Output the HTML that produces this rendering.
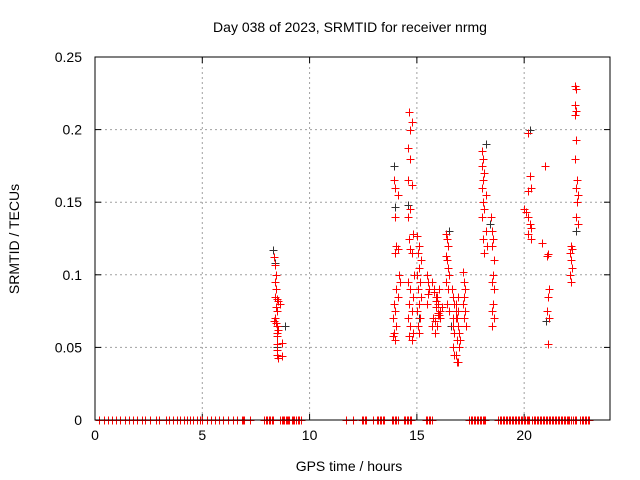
<!DOCTYPE html>
<html><head><meta charset="utf-8"><style>
body{margin:0;background:#fff}
svg{display:block;font-family:"Liberation Sans",sans-serif}
</style></head><body>
<svg id="chart" width="640" height="480">
<rect width="640" height="480" fill="#fff"/>
<text x="350" y="32" font-size="14" text-anchor="middle">Day 038 of 2023, SRMTID for receiver nrmg</text>
<text x="349" y="471" font-size="14" text-anchor="middle">GPS time / hours</text>
<text transform="translate(19,239) rotate(-90)" font-size="14" text-anchor="middle">SRMTID / TECUs</text>
<g id="grid"></g><g id="ticks"></g><g id="black" shape-rendering="crispEdges"></g><g id="red" shape-rendering="crispEdges"></g>
<rect x="95" y="57" width="515" height="363" fill="none" stroke="#000" stroke-width="1"/>
</svg>
<script>
const xTicks=[0,5,10,15,20];
const yTicks=[0,0.05,0.1,0.15,0.2,0.25];
const yTickLabels=["0","0.05","0.1","0.15","0.2","0.25"];
const zeroHours=[0.2,0.44,0.62,0.81,1.0,1.18,1.42,1.6,1.79,1.98,2.17,2.35,2.54,2.82,2.99,3.29,3.44,3.63,3.82,3.97,4.13,4.28,4.44,4.59,4.75,4.88,5.0,5.22,5.41,5.59,5.78,5.97,6.2,6.42,6.62,6.85,6.9,6.96,7.24,7.87,7.95,8.03,8.1,8.17,8.24,8.3,8.64,8.7,8.76,8.82,8.88,8.94,9.0,9.05,9.19,9.24,9.28,9.39,9.45,9.52,9.58,11.7,12.04,12.43,12.5,12.56,12.62,12.94,13.13,13.2,13.27,13.34,13.4,13.46,13.83,13.9,13.97,14.04,14.1,14.39,14.46,14.53,14.6,14.66,14.72,15.42,15.49,15.56,15.63,15.7,17.43,17.5,17.57,17.64,17.71,17.78,17.85,17.92,17.99,18.06,18.12,18.18,18.79,18.86,18.93,19.0,19.07,19.14,19.21,19.28,19.35,19.42,19.49,19.56,19.63,19.7,19.77,19.84,19.91,19.98,20.05,20.12,20.18,20.22,20.37,20.44,20.51,20.58,20.65,20.72,20.79,20.86,20.93,21.0,21.07,21.14,21.21,21.28,21.35,21.42,21.49,21.57,21.63,21.7,21.77,21.84,21.91,21.98,22.05,22.1,22.2,22.27,22.35,22.43,22.62,22.69,22.76,22.83,22.9,22.96,23.0];
const redHours=[8.35,8.4,8.42,8.38,8.45,8.4,8.5,8.55,8.6,8.45,8.5,8.38,8.35,8.45,8.5,8.55,8.5,8.48,8.5,8.7,8.5,8.55,8.7,8.5,
13.95,14.0,14.1,14.0,14.05,14.1,14.0,14.15,14.2,14.05,14.1,13.95,14.0,13.9,14.05,13.95,14.0,13.9,
14.65,14.75,14.7,14.6,14.7,14.6,14.75,14.7,14.6,14.8,14.65,14.7,14.75,14.85,14.6,14.7,14.8,14.65,14.75,14.6,14.7,14.8,14.65,14.75,
15.0,15.1,15.05,15.2,15.1,15.0,15.15,15.05,15.2,15.1,15.0,15.15,15.05,15.1,
15.45,15.5,15.55,15.5,15.45,
15.7,15.8,15.9,16.0,16.1,15.75,15.85,15.95,16.05,16.15,15.8,15.9,16.0,16.1,15.7,15.85,15.95,16.05,15.9,16.0,
16.35,16.4,16.45,16.35,16.4,16.45,16.5,16.35,16.45,16.4,16.5,
16.65,16.7,16.75,16.8,16.85,16.9,16.95,17.0,16.7,16.8,16.9,16.75,16.85,16.95,16.7,16.8,16.9,16.75,16.85,16.8,16.9,16.7,
17.15,17.2,17.25,17.2,17.15,17.25,17.2,17.3,
18.05,18.1,18.05,18.15,18.1,18.05,18.2,18.1,18.15,18.05,18.2,18.1,18.25,18.15,
18.45,18.5,18.55,18.5,18.6,18.55,18.5,18.6,18.55,18.5,18.6,18.5,
20.2,20.25,20.3,20.2,20.0,20.1,20.2,20.25,20.3,20.2,20.3,
20.95,20.85,21.1,21.05,21.15,21.1,21.05,21.15,21.1,
22.35,22.4,22.35,22.4,22.35,22.4,22.35,22.45,22.4,22.5,22.45,22.4,22.5,22.2,22.25,22.15,22.2,22.25,22.15,22.2];
const redValues=[0.112,0.107,0.1,0.095,0.09,0.085,0.083,0.082,0.08,0.078,0.075,0.07,0.068,0.067,0.065,0.062,0.06,0.058,0.052,0.053,0.045,0.043,0.044,0.048,
0.165,0.16,0.155,0.14,0.12,0.118,0.115,0.1,0.095,0.09,0.085,0.08,0.075,0.07,0.065,0.06,0.055,0.058,
0.212,0.205,0.2,0.187,0.18,0.165,0.162,0.145,0.14,0.128,0.125,0.118,0.115,0.1,0.095,0.09,0.085,0.08,0.075,0.07,0.065,0.06,0.058,0.055,
0.127,0.12,0.115,0.11,0.105,0.1,0.095,0.09,0.085,0.08,0.075,0.07,0.065,0.06,
0.1,0.095,0.09,0.087,0.08,
0.095,0.09,0.085,0.08,0.075,0.07,0.068,0.065,0.072,0.078,0.088,0.082,0.074,0.07,0.065,0.06,0.085,0.09,0.078,0.072,
0.128,0.125,0.12,0.113,0.11,0.105,0.1,0.095,0.09,0.08,0.075,
0.09,0.085,0.08,0.075,0.07,0.065,0.06,0.055,0.05,0.045,0.04,0.06,0.055,0.05,0.065,0.07,0.075,0.045,0.04,0.08,0.085,0.07,
0.102,0.095,0.09,0.085,0.08,0.075,0.07,0.065,
0.185,0.18,0.175,0.17,0.165,0.16,0.155,0.15,0.145,0.14,0.13,0.125,0.12,0.115,
0.14,0.13,0.125,0.12,0.11,0.1,0.095,0.09,0.08,0.075,0.07,0.065,
0.198,0.168,0.16,0.158,0.145,0.143,0.14,0.135,0.132,0.128,0.125,
0.175,0.122,0.114,0.113,0.09,0.085,0.075,0.07,0.052,
0.23,0.228,0.217,0.213,0.21,0.193,0.18,0.165,0.16,0.155,0.15,0.14,0.135,0.12,0.118,0.115,0.11,0.105,0.1,0.095];
const blackHours=[8.3,8.4,8.85,8.5,13.95,14.0,14.6,15.1,16.5,16.6,18.2,18.4,20.25,21.0,22.4];
const blackValues=[0.117,0.108,0.065,0.05,0.175,0.147,0.148,0.07,0.13,0.065,0.19,0.135,0.2,0.068,0.13];
const NS="http://www.w3.org/2000/svg";
const X=h=>95+h*(515/24), Y=v=>420-v*(363/0.25);
function mk(tag,attrs,parent){const e=document.createElementNS(NS,tag);for(const k in attrs)e.setAttribute(k,attrs[k]);parent.appendChild(e);return e;}
const grid=document.getElementById('grid'),ticks=document.getElementById('ticks');
xTicks.forEach(t=>{
 if(t>0){const g=mk('line',{x1:X(t),x2:X(t),y1:57,y2:420,stroke:'#a0a0a0','stroke-dasharray':'2,3'},grid);
 
 }
 mk('line',{x1:X(t),x2:X(t),y1:420,y2:414,stroke:'#000'},ticks);
 mk('line',{x1:X(t),x2:X(t),y1:57,y2:63,stroke:'#000'},ticks);
 const l=mk('text',{x:X(t),y:440,'font-size':14,'text-anchor':'middle'},ticks);l.textContent=t;
 
 
});
yTicks.forEach((t,i)=>{
 if(t>0&&t<0.25){const g=mk('line',{x1:95,x2:610,y1:Y(t),y2:Y(t),stroke:'#a0a0a0','stroke-dasharray':'2,3'},grid);
 
 }
 mk('line',{x1:95,x2:101,y1:Y(t),y2:Y(t),stroke:'#000'},ticks);
 mk('line',{x1:610,x2:604,y1:Y(t),y2:Y(t),stroke:'#000'},ticks);
 const l=mk('text',{x:82,y:Y(t)+5,'font-size':14,'text-anchor':'end'},ticks);l.textContent=yTickLabels[i];
 
 
});
function plus(g,h,v,c,name){
 const x=Math.round(X(h))+0.5, y=Math.round(Y(v))+0.5;
 const p=mk('path',{d:`M${x-4},${y}h8M${x},${y-4}v8`,stroke:c,'stroke-width':1,fill:'none'},g);
 
 
}
const bg=document.getElementById('black'),rg=document.getElementById('red');
blackHours.forEach((h,i)=>plus(bg,h,blackValues[i],'#333','black-point'));
redHours.forEach((h,i)=>plus(rg,h,redValues[i],'#ff0000','red-point'));
zeroHours.forEach(h=>plus(rg,h,0,'#ff0000','zero-point'));
</script>
</body></html>
